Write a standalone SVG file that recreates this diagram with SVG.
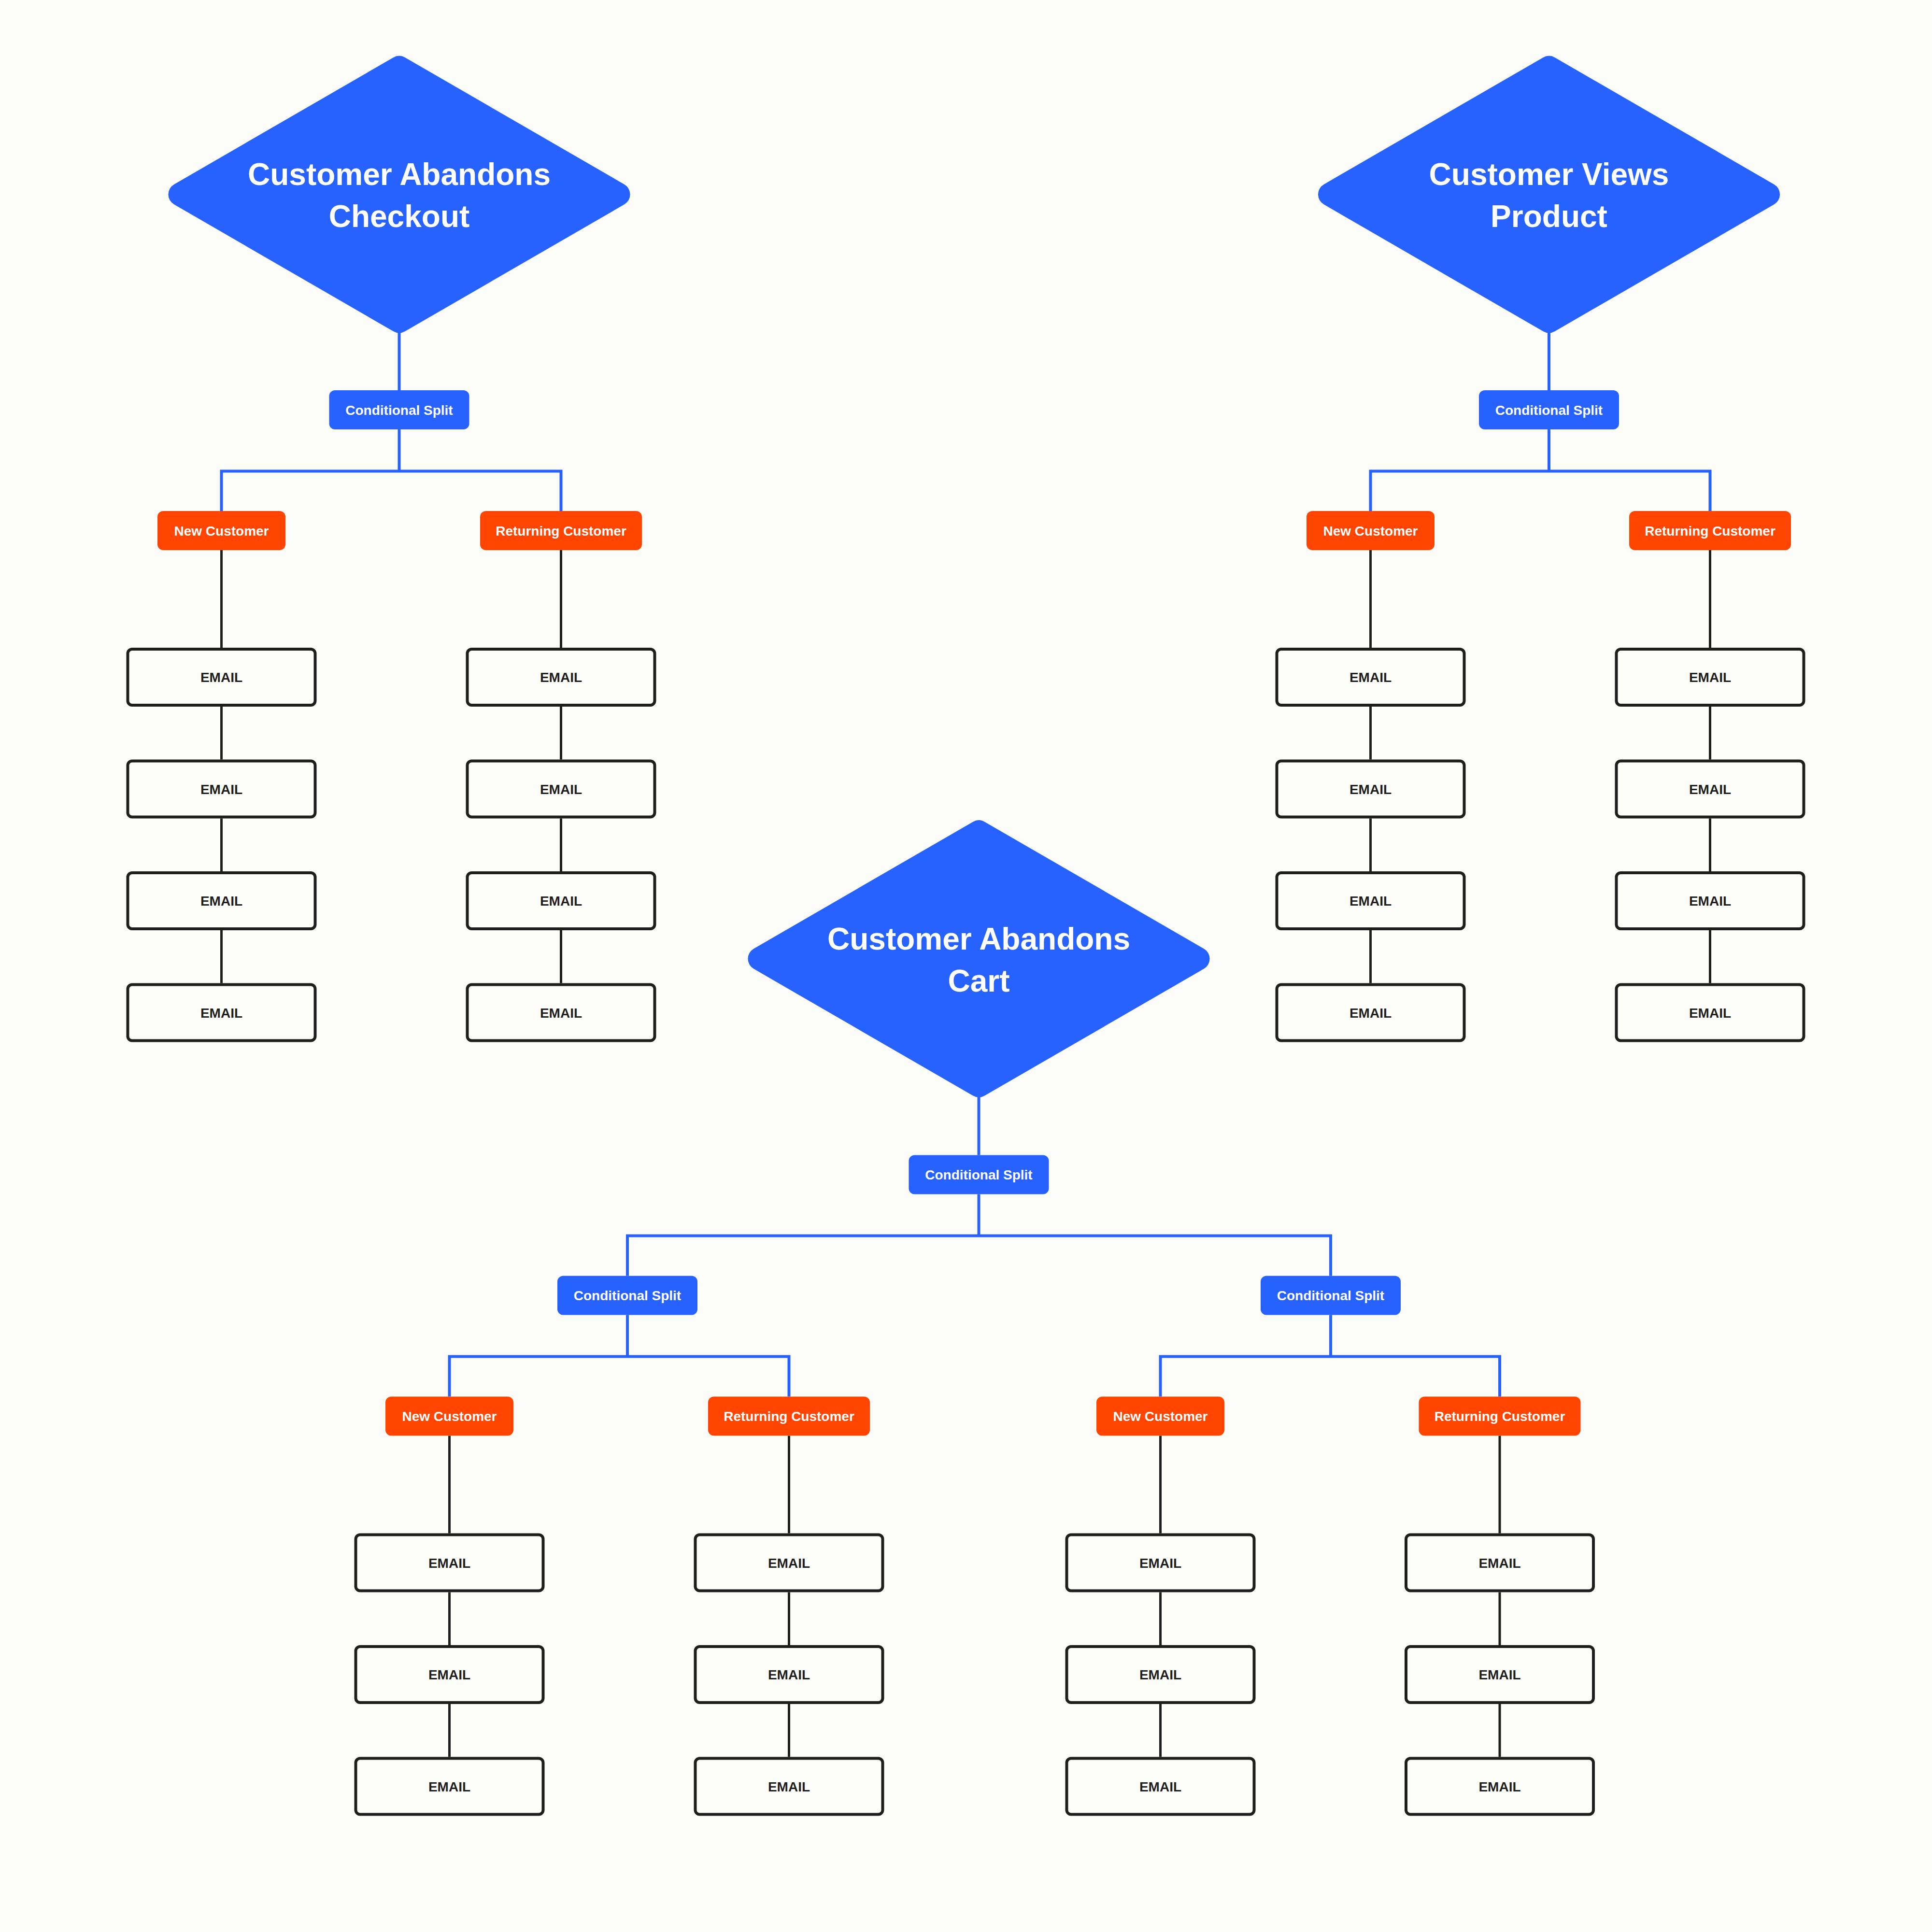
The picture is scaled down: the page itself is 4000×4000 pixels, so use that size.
<svg xmlns="http://www.w3.org/2000/svg" xmlns:xlink="http://www.w3.org/1999/xlink" width="4000" height="4000" viewBox="0 0 4000 4000">
<style>
.bg{fill:#FCFCF8}
.dia{fill:#2762FF}
.cs{fill:#2762FF}
.cust{fill:#FF4500}
.email{fill:#FCFCF8;stroke:#1E1E1E;stroke-width:6}
.dtxt{font-family:"Liberation Sans",Arial,sans-serif;font-weight:700;font-size:64px;fill:#FFFFFF;text-anchor:middle}
.ltxt{font-family:"Liberation Sans",Arial,sans-serif;font-weight:700;font-size:28px;fill:#FFFFFF;text-anchor:middle}
.etxt{font-family:"Liberation Sans",Arial,sans-serif;font-weight:700;font-size:28px;fill:#1E1E1E;text-anchor:middle}
.blue{fill:none;stroke:#2762FF;stroke-width:6;stroke-linejoin:miter;stroke-linecap:butt}
.black{fill:none;stroke:#1E1E1E;stroke-width:5;stroke-linecap:butt}
</style>
<defs>
<path id="diamond" d="M-12,-283.56 A24,24 0 0 1 12,-283.56 L466.02,-20.82 A24,24 0 0 1 466.02,20.82 L12,283.56 A24,24 0 0 1 -12,283.56 L-466.02,20.82 A24,24 0 0 1 -466.02,-20.82 Z"/>
</defs>
<rect class="bg" x="0" y="0" width="4000" height="4000"/>

<g id="connectors">
<!-- Tree A -->
<path class="blue" d="M826.5,688 V808"/>
<path class="blue" d="M826.5,889 V975.5"/>
<path class="blue" d="M458.5,1058 V975.5 H1161.5 V1058"/>
<path class="black" d="M458.5,1139 V1341 M458.5,1463 V1572.5 M458.5,1694.5 V1804 M458.5,1926 V2035.5"/>
<path class="black" d="M1161.5,1139 V1341 M1161.5,1463 V1572.5 M1161.5,1694.5 V1804 M1161.5,1926 V2035.5"/>
<!-- Tree B -->
<path class="blue" d="M3207,688 V808"/>
<path class="blue" d="M3207,889 V975.5"/>
<path class="blue" d="M2837.5,1058 V975.5 H3540.5 V1058"/>
<path class="black" d="M2837.5,1139 V1341 M2837.5,1463 V1572.5 M2837.5,1694.5 V1804 M2837.5,1926 V2035.5"/>
<path class="black" d="M3540.5,1139 V1341 M3540.5,1463 V1572.5 M3540.5,1694.5 V1804 M3540.5,1926 V2035.5"/>
<!-- Tree C -->
<path class="blue" d="M2026.5,2271 V2391.5"/>
<path class="blue" d="M2026.5,2472.5 V2558.5"/>
<path class="blue" d="M1299,2641.5 V2558.5 H2755 V2641.5"/>
<path class="blue" d="M1299,2722.5 V2808.5"/>
<path class="blue" d="M2755,2722.5 V2808.5"/>
<path class="blue" d="M930.5,2891.5 V2808.5 H1633.5 V2891.5"/>
<path class="blue" d="M2402.5,2891.5 V2808.5 H3105 V2891.5"/>
<path class="black" d="M930.5,2972.5 V3174.5 M930.5,3296.5 V3406 M930.5,3528 V3637.5"/>
<path class="black" d="M1633.5,2972.5 V3174.5 M1633.5,3296.5 V3406 M1633.5,3528 V3637.5"/>
<path class="black" d="M2402.5,2972.5 V3174.5 M2402.5,3296.5 V3406 M2402.5,3528 V3637.5"/>
<path class="black" d="M3105,2972.5 V3174.5 M3105,3296.5 V3406 M3105,3528 V3637.5"/>
</g>

<!-- Tree A nodes -->
<g id="trigger-checkout">
<use xlink:href="#diamond" href="#diamond" class="dia" transform="translate(826.5,402.5)"/>
<text class="dtxt" x="826.5" y="383">Customer Abandons</text>
<text class="dtxt" x="826.5" y="470">Checkout</text>
</g>
<g id="split-checkout">
<rect class="cs" x="681.5" y="808" width="290" height="81" rx="12"/>
<text class="ltxt" x="826.5" y="858.5">Conditional Split</text>
</g>
<g id="new-checkout">
<rect class="cust" x="326" y="1058" width="265" height="81" rx="12"/>
<text class="ltxt" x="458.5" y="1108.5">New Customer</text>
</g>
<g id="ret-checkout">
<rect class="cust" x="994" y="1058" width="335" height="81" rx="12"/>
<text class="ltxt" x="1161.5" y="1108.5">Returning Customer</text>
</g>
<g id="email-a1-1"><rect class="email" x="264.5" y="1344" width="388" height="116" rx="9"/><text class="etxt" x="458.5" y="1412">EMAIL</text></g>
<g id="email-a1-2"><rect class="email" x="264.5" y="1575.5" width="388" height="116" rx="9"/><text class="etxt" x="458.5" y="1643.5">EMAIL</text></g>
<g id="email-a1-3"><rect class="email" x="264.5" y="1807" width="388" height="116" rx="9"/><text class="etxt" x="458.5" y="1875">EMAIL</text></g>
<g id="email-a1-4"><rect class="email" x="264.5" y="2038.5" width="388" height="116" rx="9"/><text class="etxt" x="458.5" y="2106.5">EMAIL</text></g>
<g id="email-a2-1"><rect class="email" x="967.5" y="1344" width="388" height="116" rx="9"/><text class="etxt" x="1161.5" y="1412">EMAIL</text></g>
<g id="email-a2-2"><rect class="email" x="967.5" y="1575.5" width="388" height="116" rx="9"/><text class="etxt" x="1161.5" y="1643.5">EMAIL</text></g>
<g id="email-a2-3"><rect class="email" x="967.5" y="1807" width="388" height="116" rx="9"/><text class="etxt" x="1161.5" y="1875">EMAIL</text></g>
<g id="email-a2-4"><rect class="email" x="967.5" y="2038.5" width="388" height="116" rx="9"/><text class="etxt" x="1161.5" y="2106.5">EMAIL</text></g>

<!-- Tree B nodes -->
<g id="trigger-views">
<use xlink:href="#diamond" href="#diamond" class="dia" transform="translate(3207,402.5)"/>
<text class="dtxt" x="3207" y="383">Customer Views</text>
<text class="dtxt" x="3207" y="470">Product</text>
</g>
<g id="split-views">
<rect class="cs" x="3062" y="808" width="290" height="81" rx="12"/>
<text class="ltxt" x="3207" y="858.5">Conditional Split</text>
</g>
<g id="new-views">
<rect class="cust" x="2705" y="1058" width="265" height="81" rx="12"/>
<text class="ltxt" x="2837.5" y="1108.5">New Customer</text>
</g>
<g id="ret-views">
<rect class="cust" x="3373" y="1058" width="335" height="81" rx="12"/>
<text class="ltxt" x="3540.5" y="1108.5">Returning Customer</text>
</g>
<g id="email-b1-1"><rect class="email" x="2643.5" y="1344" width="388" height="116" rx="9"/><text class="etxt" x="2837.5" y="1412">EMAIL</text></g>
<g id="email-b1-2"><rect class="email" x="2643.5" y="1575.5" width="388" height="116" rx="9"/><text class="etxt" x="2837.5" y="1643.5">EMAIL</text></g>
<g id="email-b1-3"><rect class="email" x="2643.5" y="1807" width="388" height="116" rx="9"/><text class="etxt" x="2837.5" y="1875">EMAIL</text></g>
<g id="email-b1-4"><rect class="email" x="2643.5" y="2038.5" width="388" height="116" rx="9"/><text class="etxt" x="2837.5" y="2106.5">EMAIL</text></g>
<g id="email-b2-1"><rect class="email" x="3346.5" y="1344" width="388" height="116" rx="9"/><text class="etxt" x="3540.5" y="1412">EMAIL</text></g>
<g id="email-b2-2"><rect class="email" x="3346.5" y="1575.5" width="388" height="116" rx="9"/><text class="etxt" x="3540.5" y="1643.5">EMAIL</text></g>
<g id="email-b2-3"><rect class="email" x="3346.5" y="1807" width="388" height="116" rx="9"/><text class="etxt" x="3540.5" y="1875">EMAIL</text></g>
<g id="email-b2-4"><rect class="email" x="3346.5" y="2038.5" width="388" height="116" rx="9"/><text class="etxt" x="3540.5" y="2106.5">EMAIL</text></g>

<!-- Tree C nodes -->
<g id="trigger-cart">
<use xlink:href="#diamond" href="#diamond" class="dia" transform="translate(2026.5,1985)"/>
<text class="dtxt" x="2026.5" y="1965.5">Customer Abandons</text>
<text class="dtxt" x="2026.5" y="2052.5">Cart</text>
</g>
<g id="split-cart">
<rect class="cs" x="1881.5" y="2391.5" width="290" height="81" rx="12"/>
<text class="ltxt" x="2026.5" y="2442">Conditional Split</text>
</g>
<g id="split-cart-left">
<rect class="cs" x="1154" y="2641.5" width="290" height="81" rx="12"/>
<text class="ltxt" x="1299" y="2692">Conditional Split</text>
</g>
<g id="split-cart-right">
<rect class="cs" x="2610" y="2641.5" width="290" height="81" rx="12"/>
<text class="ltxt" x="2755" y="2692">Conditional Split</text>
</g>
<g id="new-cart-left">
<rect class="cust" x="798" y="2891.5" width="265" height="81" rx="12"/>
<text class="ltxt" x="930.5" y="2942">New Customer</text>
</g>
<g id="ret-cart-left">
<rect class="cust" x="1466" y="2891.5" width="335" height="81" rx="12"/>
<text class="ltxt" x="1633.5" y="2942">Returning Customer</text>
</g>
<g id="new-cart-right">
<rect class="cust" x="2270" y="2891.5" width="265" height="81" rx="12"/>
<text class="ltxt" x="2402.5" y="2942">New Customer</text>
</g>
<g id="ret-cart-right">
<rect class="cust" x="2937.5" y="2891.5" width="335" height="81" rx="12"/>
<text class="ltxt" x="3105" y="2942">Returning Customer</text>
</g>
<g id="email-c1-1"><rect class="email" x="736.5" y="3177.5" width="388" height="116" rx="9"/><text class="etxt" x="930.5" y="3245.5">EMAIL</text></g>
<g id="email-c1-2"><rect class="email" x="736.5" y="3409" width="388" height="116" rx="9"/><text class="etxt" x="930.5" y="3477">EMAIL</text></g>
<g id="email-c1-3"><rect class="email" x="736.5" y="3640.5" width="388" height="116" rx="9"/><text class="etxt" x="930.5" y="3708.5">EMAIL</text></g>
<g id="email-c2-1"><rect class="email" x="1439.5" y="3177.5" width="388" height="116" rx="9"/><text class="etxt" x="1633.5" y="3245.5">EMAIL</text></g>
<g id="email-c2-2"><rect class="email" x="1439.5" y="3409" width="388" height="116" rx="9"/><text class="etxt" x="1633.5" y="3477">EMAIL</text></g>
<g id="email-c2-3"><rect class="email" x="1439.5" y="3640.5" width="388" height="116" rx="9"/><text class="etxt" x="1633.5" y="3708.5">EMAIL</text></g>
<g id="email-c3-1"><rect class="email" x="2208.5" y="3177.5" width="388" height="116" rx="9"/><text class="etxt" x="2402.5" y="3245.5">EMAIL</text></g>
<g id="email-c3-2"><rect class="email" x="2208.5" y="3409" width="388" height="116" rx="9"/><text class="etxt" x="2402.5" y="3477">EMAIL</text></g>
<g id="email-c3-3"><rect class="email" x="2208.5" y="3640.5" width="388" height="116" rx="9"/><text class="etxt" x="2402.5" y="3708.5">EMAIL</text></g>
<g id="email-c4-1"><rect class="email" x="2911" y="3177.5" width="388" height="116" rx="9"/><text class="etxt" x="3105" y="3245.5">EMAIL</text></g>
<g id="email-c4-2"><rect class="email" x="2911" y="3409" width="388" height="116" rx="9"/><text class="etxt" x="3105" y="3477">EMAIL</text></g>
<g id="email-c4-3"><rect class="email" x="2911" y="3640.5" width="388" height="116" rx="9"/><text class="etxt" x="3105" y="3708.5">EMAIL</text></g>
</svg>
